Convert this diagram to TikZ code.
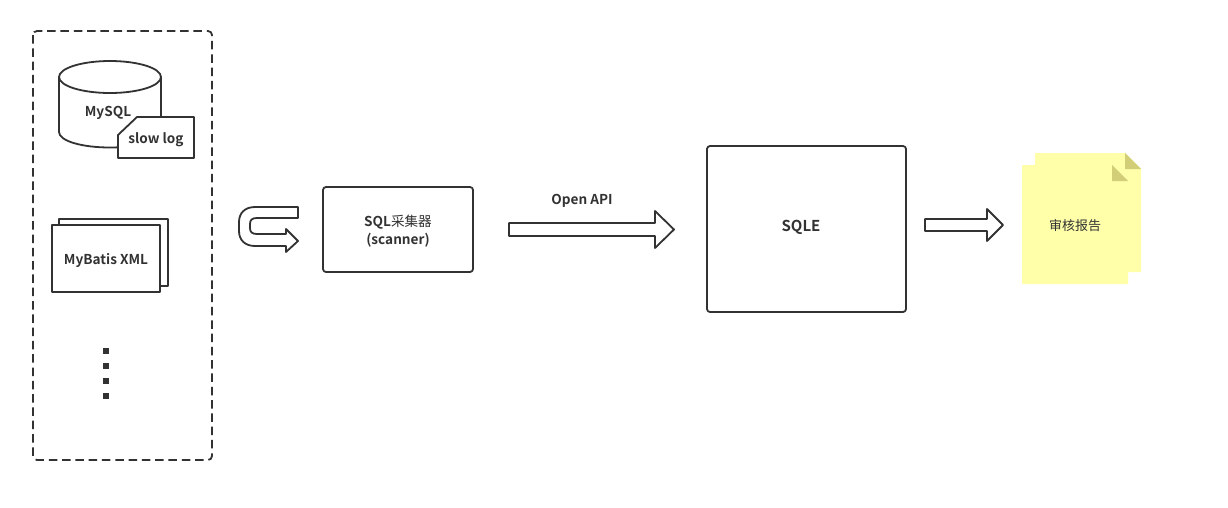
\documentclass[tikz,border=0pt]{standalone}
\usepackage{fontspec}
\setmainfont{Noto Sans CJK SC}[BoldFont={Noto Sans CJK SC Bold}]
\usetikzlibrary{calc}
\definecolor{ink}{HTML}{323232}
\definecolor{noteyellow}{HTML}{FFFFAA}
\definecolor{notefold}{HTML}{D2CE78}
\tikzset{
  outline/.style={draw=ink,line width=1.8pt,fill=white,line join=round},
  label/.style={text=ink,font=\fontsize{13.6}{18}\selectfont\bfseries,inner sep=0pt,align=center},
  dotmark/.style={fill=ink,draw=none},
  note/.style={fill=noteyellow,draw=none},
  fold/.style={fill=notefold,draw=none}
}
\begin{document}
\begin{tikzpicture}[x=1pt,y=-1pt]
\useasboundingbox (0,0) rectangle (1228,507);
% dashed container
\draw[draw=ink,line width=1.8pt,dash pattern=on 8.5pt off 4.8pt,rounded corners=4pt] (33,31) rectangle (212,460);
% cylinder
\draw[outline] (59,77) -- (59,132) .. controls (59,141) and (82,147.5) .. (110,147.5) .. controls (138,147.5) and (161,141) .. (161,132) -- (161,77);
\draw[outline] (110,77) ellipse [x radius=51,y radius=16];
\node[label] (mysql) at (108,112.5) {MySQL};
% slow log tag
\draw[outline] (137,117) -- (194,117) -- (194,158) -- (118,158) -- (118,135) -- cycle;
\node[label] (slowlog) at (156,139.5) {slow log};
% MyBatis stack
\draw[outline] (59,219) rectangle (168,286);
\draw[outline] (52,225) rectangle (160,292);
\node[label] (mybatis) at (106,260.5) {MyBatis XML};
% dots
\foreach \yy in {351,366,381,396}
  \fill[dotmark] (103,\yy-3) rectangle (109,\yy+3);
% U-turn arrow
\draw[outline] (298,207) -- (255,207) .. controls (245,207) and (239,213) .. (239,222) -- (239,231) .. controls (239,240) and (245,246) .. (255,246) -- (286,246) -- (286,252) -- (298,241) -- (286,229) -- (286,234) -- (257,234) .. controls (252,234) and (250,232) .. (250,228) -- (250,224) .. controls (250,220) and (252,218) .. (257,218) -- (298,218) -- cycle;
% scanner
\node[outline,rounded corners=3pt,minimum width=150pt,minimum height=85pt,inner sep=0pt] (scanner) at (398,229.5) {};
\node[label] (scannertext) at (398,231) {SQL{\mdseries 采集器}\\(scanner)};
% Open API arrow
\node[label] (openapi) at (582,200.5) {Open API};
\draw[outline] (509,223) -- (655,223) -- (655,211) -- (674,229.5) -- (655,248) -- (655,236) -- (509,236) -- cycle;
% SQLE
\node[outline,rounded corners=3pt,minimum width=199pt,minimum height=166pt,inner sep=0pt] (sqle) at (806.5,229) {};
\node[label,font=\fontsize{15}{18}\selectfont\bfseries] (sqletext) at (801,227) {SQLE};
% arrow to report
\draw[outline] (925,219) -- (987,219) -- (987,209) -- (1003,225) -- (987,241) -- (987,231) -- (925,231) -- cycle;
% report notes
\fill[note] (1035,153) -- (1125,153) -- (1141,169) -- (1141,272) -- (1035,272) -- cycle;
\fill[fold] (1125,153) -- (1141,169) -- (1125,169) -- cycle;
\fill[note] (1022,165) -- (1112,165) -- (1128,181) -- (1128,284) -- (1022,284) -- cycle;
\fill[fold] (1112,165) -- (1128,181) -- (1112,181) -- cycle;
\node[label,font=\fontsize{13}{18}\selectfont] (report) at (1075,226) {审核报告};
\end{tikzpicture}
\end{document}
